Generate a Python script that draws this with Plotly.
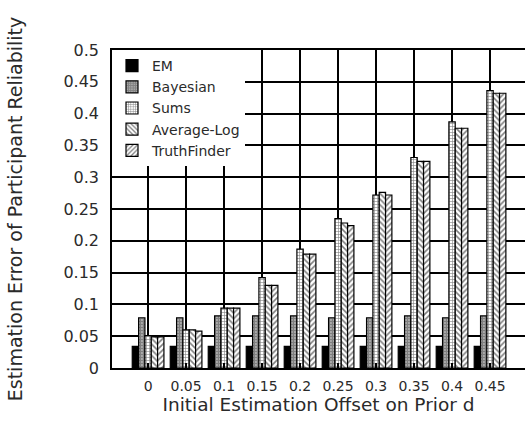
import plotly.graph_objects as go

# Initial estimation offsets on the prior d (x categories)
offsets = ["0", "0.05", "0.1", "0.15", "0.2", "0.25", "0.3", "0.35", "0.4", "0.45"]

# Estimation error of participant reliability for each algorithm
em = [0.034, 0.034, 0.034, 0.034, 0.034, 0.034, 0.034, 0.034, 0.034, 0.034]
bayesian = [0.079, 0.079, 0.082, 0.082, 0.082, 0.079, 0.079, 0.082, 0.079, 0.082]
sums = [0.051, 0.060, 0.094, 0.142, 0.187, 0.235, 0.272, 0.331, 0.387, 0.436]
average_log = [0.049, 0.060, 0.094, 0.130, 0.179, 0.228, 0.276, 0.325, 0.377, 0.432]
truthfinder = [0.049, 0.058, 0.094, 0.130, 0.179, 0.224, 0.272, 0.325, 0.377, 0.432]

y_ticks = [0, 0.05, 0.1, 0.15, 0.2, 0.25, 0.3, 0.35, 0.4, 0.45, 0.5]
y_tick_text = ["0", "0.05", "0.1", "0.15", "0.2", "0.25", "0.3", "0.35", "0.4", "0.45", "0.5"]

series = [
    ("EM", em, dict(color="black")),
    ("Bayesian", bayesian, dict(color="white", pattern=dict(shape=".", fgcolor="black", bgcolor="white", size=3, solidity=0.8))),
    ("Sums", sums, dict(color="white", pattern=dict(shape="+", fgcolor="black", bgcolor="white", size=3, solidity=0.35))),
    ("Average-Log", average_log, dict(color="white", pattern=dict(shape="\\", fgcolor="black", bgcolor="white", size=4, solidity=0.4))),
    ("TruthFinder", truthfinder, dict(color="white", pattern=dict(shape="/", fgcolor="black", bgcolor="white", size=4, solidity=0.4))),
]

fig = go.Figure()
for name, vals, marker in series:
    marker = dict(marker, line=dict(color="black", width=1.2))
    fig.add_trace(go.Bar(name=name, x=offsets, y=vals, marker=marker))

font = "DejaVu Sans, Liberation Sans, Arial, sans-serif"
text_color = "#2a2a2a"

fig.update_layout(
    width=525,
    height=425,
    margin=dict(l=112, r=0, t=50, b=57),
    paper_bgcolor="white",
    plot_bgcolor="white",
    barmode="group",
    bargap=1 / 6,
    bargroupgap=0,
    font=dict(family=font, size=14, color=text_color),
    legend=dict(
        x=0.0, y=1.0, xanchor="left", yanchor="top",
        bgcolor="white", borderwidth=0,
        font=dict(size=14, color=text_color),
        itemwidth=30,
        entrywidth=135, entrywidthmode="pixels",
        tracegroupgap=0,
    ),
    xaxis=dict(
        type="category",
        range=[-0.95, 9.92],
        showgrid=True, gridcolor="black", gridwidth=1.5,
        showline=True, linecolor="black", linewidth=1.5,
        mirror="ticks",
        ticks="inside", ticklen=5, tickcolor="black", tickwidth=1.5,
        ticklabelstandoff=4,
        tickfont=dict(size=14),
        title=dict(text="Initial Estimation Offset on Prior d", font=dict(size=18.5), standoff=5),
        automargin=False,
    ),
    yaxis=dict(
        range=[0, 0.5],
        tickvals=y_ticks, ticktext=y_tick_text,
        showgrid=True, gridcolor="black", gridwidth=1.5,
        showline=True, linecolor="black", linewidth=1.5,
        mirror=False, zeroline=False,
        ticks="inside", ticklen=5, tickcolor="black", tickwidth=1.5,
        ticklabelstandoff=8,
        tickfont=dict(size=16),
        title=dict(text="Estimation Error of Participant Reliability", font=dict(size=19), standoff=36),
        automargin=False,
    ),
)

fig.write_html(
    "out.html",
    post_script="document.body.style.margin='0';document.body.style.overflow='hidden';",
)
